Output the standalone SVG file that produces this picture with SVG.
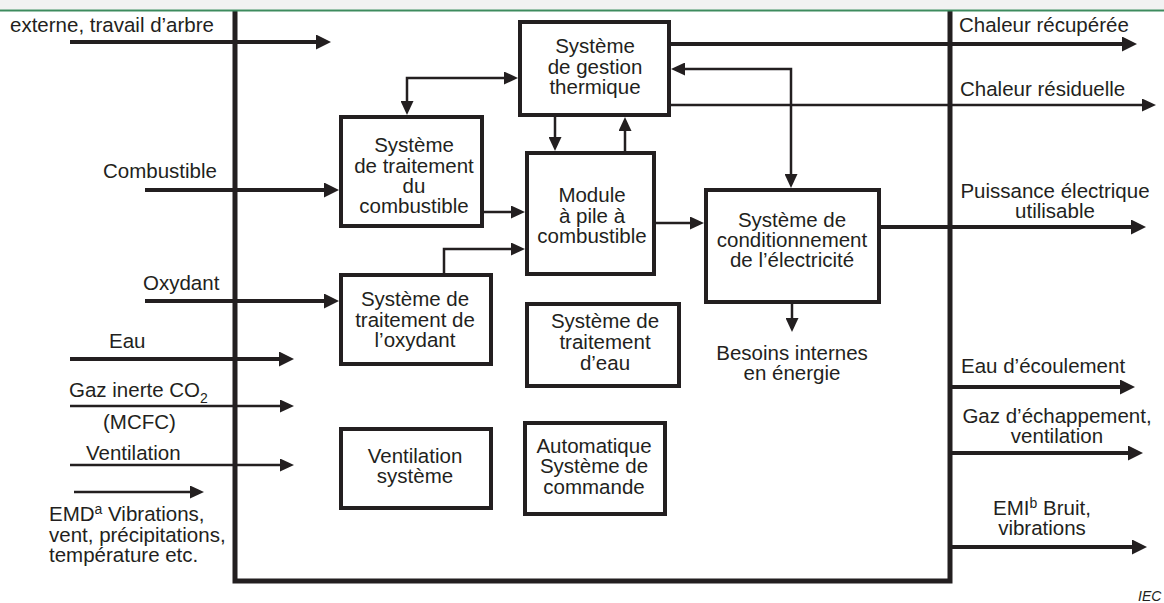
<svg xmlns="http://www.w3.org/2000/svg" width="1164" height="603" viewBox="0 0 1164 603">
<style>
text{font-family:"Liberation Sans",Arial,sans-serif;font-size:20.5px;fill:#231f20}
.m{text-anchor:middle}
.box{fill:none;stroke:#231f20;stroke-width:4}
.thk{fill:none;stroke:#231f20;stroke-width:4;marker-end:url(#aT)}
.thn{fill:none;stroke:#231f20;stroke-width:2.5;marker-end:url(#a)}
.dbl{marker-start:url(#a)}
.sub{font-size:14px}
</style>
<defs>
<marker id="aT" markerUnits="userSpaceOnUse" markerWidth="15" markerHeight="15" refX="11" refY="7.5" orient="auto-start-reverse" viewBox="0 0 15 15"><path d="M0,0 L15,7.5 L0,15 z" fill="#231f20"/></marker>
<marker id="a" markerUnits="userSpaceOnUse" markerWidth="14" markerHeight="13" refX="10" refY="6.5" orient="auto-start-reverse" viewBox="0 0 14 13"><path d="M0,0 L14,6.5 L0,13 z" fill="#231f20"/></marker>
</defs>
<rect width="1164" height="603" fill="#ffffff"/>
<g id="frame"><path d="M235,11 V581 H950 V11" fill="none" stroke="#231f20" stroke-width="5"/></g>
<g id="connectors">
<path class="thk" d="M70,42 H327"/>
<path class="thk" d="M145,190 H335"/>
<path class="thk" d="M145,301 H335"/>
<path class="thk" d="M70,359 H290"/>
<path class="thn" d="M70,406 H290"/>
<path class="thn" d="M70,465 H290"/>
<path class="thn" d="M74,492 H200"/>
<path class="thk" d="M671,44 H1133"/>
<path class="thn" d="M671,105 H1152"/>
<path class="thn dbl" d="M675,69 H791 V184"/>
<path class="thk" d="M881,227 H1142"/>
<path class="thk" d="M950,387 H1131"/>
<path class="thk" d="M950,453 H1139"/>
<path class="thk" d="M950,547 H1143"/>
<path class="thn dbl" d="M514,78 H407 V111"/>
<path class="thn" d="M555,117 V147"/>
<path class="thn" d="M625,151 V121"/>
<path class="thn" d="M484,212 H521"/>
<path class="thn" d="M444,273 V249 H521"/>
<path class="thn" d="M656,223 H700"/>
<path class="thn" d="M792,304 V328"/>
</g>
<g id="thermal">
<rect class="box" x="520" y="22" width="149" height="93"/>
<text class="m" x="595" y="53">Système</text>
<text class="m" x="595" y="74">de gestion</text>
<text class="m" x="595" y="94">thermique</text>
</g>
<g id="fuel">
<rect class="box" x="341" y="117" width="141" height="109"/>
<text class="m" x="414" y="152">Système</text>
<text class="m" x="414" y="173">de traitement</text>
<text class="m" x="414" y="193">du</text>
<text class="m" x="414" y="213">combustible</text>
</g>
<g id="module">
<rect class="box" x="527" y="153" width="127" height="121"/>
<text class="m" x="592" y="202">Module</text>
<text class="m" x="592" y="223">à pile à</text>
<text class="m" x="592" y="243">combustible</text>
</g>
<g id="conditioning">
<rect class="box" x="706" y="190" width="173" height="112"/>
<text class="m" x="792" y="227">Système de</text>
<text class="m" x="792" y="247">conditionnement</text>
<text class="m" x="792" y="267">de l’électricité</text>
</g>
<g id="oxidant">
<rect class="box" x="341" y="275" width="150" height="89"/>
<text class="m" x="415" y="306">Système de</text>
<text class="m" x="415" y="327">traitement de</text>
<text class="m" x="415" y="347">l’oxydant</text>
</g>
<g id="water">
<rect class="box" x="527" y="304" width="152" height="82"/>
<text class="m" x="605" y="328">Système de</text>
<text class="m" x="605" y="349">traitement</text>
<text class="m" x="605" y="370">d’eau</text>
</g>
<g id="ventilation">
<rect class="box" x="341" y="429" width="150" height="79"/>
<text class="m" x="415" y="463">Ventilation</text>
<text class="m" x="415" y="483">système</text>
</g>
<g id="control">
<rect class="box" x="525" y="423" width="140" height="91"/>
<text class="m" x="594" y="453">Automatique</text>
<text class="m" x="594" y="473">Système de</text>
<text class="m" x="594" y="494">commande</text>
</g>
<g id="labels">
<text x="10" y="32">externe, travail d’arbre</text>
<text x="103" y="178">Combustible</text>
<text x="143" y="290">Oxydant</text>
<text x="109" y="348">Eau</text>
<text x="69" y="397">Gaz inerte CO<tspan class="sub" dy="6">2</tspan></text>
<text x="103" y="429">(MCFC)</text>
<text x="86" y="460">Ventilation</text>
<text x="49" y="521">EMD<tspan class="sub" dy="-7">a</tspan><tspan dy="7"> Vibrations,</tspan></text>
<text x="49" y="542">vent, précipitations,</text>
<text x="49" y="562">température etc.</text>
<text x="959" y="32">Chaleur récupérée</text>
<text x="960" y="96">Chaleur résiduelle</text>
<text class="m" x="1055" y="198">Puissance électrique</text>
<text class="m" x="1055" y="218">utilisable</text>
<text x="961" y="373">Eau d’écoulement</text>
<text class="m" x="1057" y="423">Gaz d’échappement,</text>
<text class="m" x="1057" y="443">ventilation</text>
<text class="m" x="1042" y="515">EMI<tspan class="sub" dy="-7">b</tspan><tspan dy="7"> Bruit,</tspan></text>
<text class="m" x="1042" y="535">vibrations</text>
<text class="m" x="792" y="360">Besoins internes</text>
<text class="m" x="792" y="380">en énergie</text>
<text x="1138" y="601" style="font-size:14px;font-style:italic">IEC</text>
</g>
<rect x="0" y="0" width="1164" height="9.5" fill="#f2f2f2"/>
<rect x="0" y="9.5" width="1164" height="2" fill="#3d8b5e"/>
</svg>
